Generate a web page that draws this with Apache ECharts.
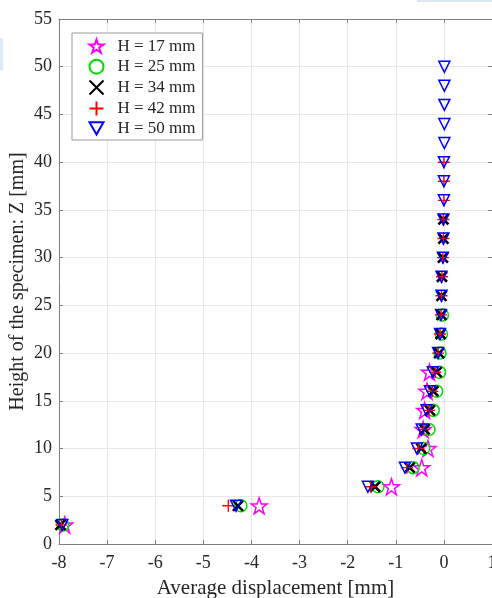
<!DOCTYPE html>
<html><head><meta charset="utf-8">
<script src="https://cdn.jsdelivr.net/npm/echarts@6/dist/echarts.min.js"></script>
<style>html,body{margin:0;padding:0;background:#fff}#c{width:492px;height:598px}</style>
</head><body><div id="c"></div>
<script>
// Heights Z (mm)
const zLevels = [2,4,6,8,10,12,14,16,18,20,22,24,26,28,30,32,34,36,38,40,42,44,46,48,50];
// Average displacement (mm) for each specimen height, listed from Z=2 upward
const dispH17 = [-7.88,-3.84,-1.09,-0.46,-0.33,-0.43,-0.40,-0.35,-0.30];
const dispH25 = [-7.92,-4.22,-1.37,-0.64,-0.42,-0.31,-0.22,-0.15,-0.09,-0.08,-0.05,-0.03];
const dispH34 = [-7.97,-4.28,-1.43,-0.71,-0.47,-0.40,-0.29,-0.22,-0.15,-0.10,-0.07,-0.05,-0.05,-0.04,-0.02,-0.01,-0.01];
const dispH42 = [-7.95,-4.48,-1.52,-0.77,-0.53,-0.42,-0.31,-0.24,-0.18,-0.12,-0.08,-0.06,-0.05,-0.04,-0.02,-0.01,-0.01,0.0,0.0,0.0];
const dispH50 = [-7.93,-4.32,-1.58,-0.81,-0.56,-0.46,-0.36,-0.29,-0.23,-0.12,-0.08,-0.06,-0.05,-0.05,-0.02,-0.01,-0.01,0.0,0.0,0.0,0.01,0.01,0.01,0.01,0.01];
const seriesNames = ['H = 17 mm','H = 25 mm','H = 34 mm','H = 42 mm','H = 50 mm'];
const xTicks = {min:-8, max:1, interval:1};
const yTicks = {min:0, max:55, interval:5};

const STAR = 'path://M50,0 L61.8,35.1 L98.9,35.1 L68.9,57.3 L80.2,92.7 L50,70.8 L19.8,92.7 L31.1,57.3 L1.1,35.1 L38.2,35.1 Z';
const CROSS = 'path://M0,0 L10,10 M10,0 L0,10';
const PLUS = 'path://M5,0 L5,10 M0,5 L10,5';
const TRI = 'path://M0,0 L10,0 L5,8.66 Z';

function pts(arr){ return arr.map((v,i)=>[v, zLevels[i]]); }
const allData = [dispH17, dispH25, dispH34, dispH42, dispH50];
const styles = [
  {symbol: STAR, size: 16, color: '#ff00ff', bw: 1.5},
  {symbol: 'circle', size: 12, color: '#00dd00', bw: 1.5},
  {symbol: CROSS, size: 10, color: '#000000', bw: 2.6},
  {symbol: PLUS, size: 12, color: '#ff0000', bw: 1.4},
  {symbol: TRI, size: 11, color: '#0000ff', bw: 1.5}
];

const font = 'Liberation Serif';
const axisGray = '#808080';
const gridGray = '#e8e8e8';

const chart = echarts.init(document.getElementById('c'), null, {renderer:'canvas'});
chart.setOption({
  animation: false,
  backgroundColor: '#ffffff',
  grid: {left: 59, top: 19, width: 433, height: 525, containLabel: false, outerBoundsMode: 'none'},
  legend: {
    orient: 'vertical', left: 72, top: 33,
    backgroundColor: '#ffffff', borderColor: '#9a9a9a', borderWidth: 1,
    padding: [4, 7, 3, 15],
    itemWidth: 14, itemHeight: 14, itemGap: 1.9,
    textStyle: {fontFamily: font, fontSize: 17, color: '#262626', padding: [0,0,0,9]},
    data: seriesNames
  },
  xAxis: [{
    type: 'value', min: xTicks.min, max: xTicks.max, interval: xTicks.interval,
    name: 'Average displacement [mm]', nameLocation: 'middle', nameGap: 34, nameMoveOverlap: false,
    nameTextStyle: {fontFamily: font, fontSize: 21, color: '#262626'},
    axisLine: {show: true, onZero: false, lineStyle: {color: axisGray, width: 1}},
    axisTick: {show: true, inside: true, length: 4, lineStyle: {color: axisGray}},
    axisLabel: {fontFamily: font, fontSize: 18, color: '#262626', margin: 10},
    splitLine: {show: true, lineStyle: {color: gridGray, width: 1}}
  },{
    type: 'value', position: 'top', min: xTicks.min, max: xTicks.max, interval: xTicks.interval,
    axisLine: {show: true, onZero: false, lineStyle: {color: axisGray, width: 1}},
    axisTick: {show: true, inside: true, length: 4, lineStyle: {color: axisGray}},
    axisLabel: {show: false}, splitLine: {show: false}
  }],
  yAxis: [{
    type: 'value', min: yTicks.min, max: yTicks.max, interval: yTicks.interval,
    name: 'Height of the specimen: Z [mm]', nameLocation: 'middle', nameGap: 31, nameMoveOverlap: false,
    nameTextStyle: {fontFamily: font, fontSize: 20, color: '#262626'},
    axisLine: {show: true, onZero: false, lineStyle: {color: axisGray, width: 1}},
    axisTick: {show: true, inside: true, length: 4, lineStyle: {color: axisGray}},
    axisLabel: {fontFamily: font, fontSize: 18, color: '#262626', margin: 7},
    splitLine: {show: true, lineStyle: {color: gridGray, width: 1}}
  },{
    type: 'value', position: 'right', min: yTicks.min, max: yTicks.max, interval: yTicks.interval,
    axisLine: {show: true, onZero: false, lineStyle: {color: axisGray, width: 1}},
    axisTick: {show: true, inside: true, length: 4, lineStyle: {color: axisGray}},
    axisLabel: {show: false}, splitLine: {show: false}
  }],
  graphic: [
    {type: 'rect', shape: {x: 0, y: 38, width: 3, height: 32}, style: {fill: '#d9ebf9'}, silent: true},
    {type: 'rect', shape: {x: 417, y: 0, width: 75, height: 2}, style: {fill: '#dce9f5'}, silent: true}
  ],
  series: allData.map((arr, k) => ({
    name: seriesNames[k], type: 'scatter', clip: false,
    data: pts(arr),
    symbol: styles[k].symbol, symbolSize: styles[k].size,
    itemStyle: {color: 'none', borderColor: styles[k].color, borderWidth: styles[k].bw, opacity: 1},
    emphasis: {disabled: true},
    z: 2 + k
  }))
});
</script></body></html>
